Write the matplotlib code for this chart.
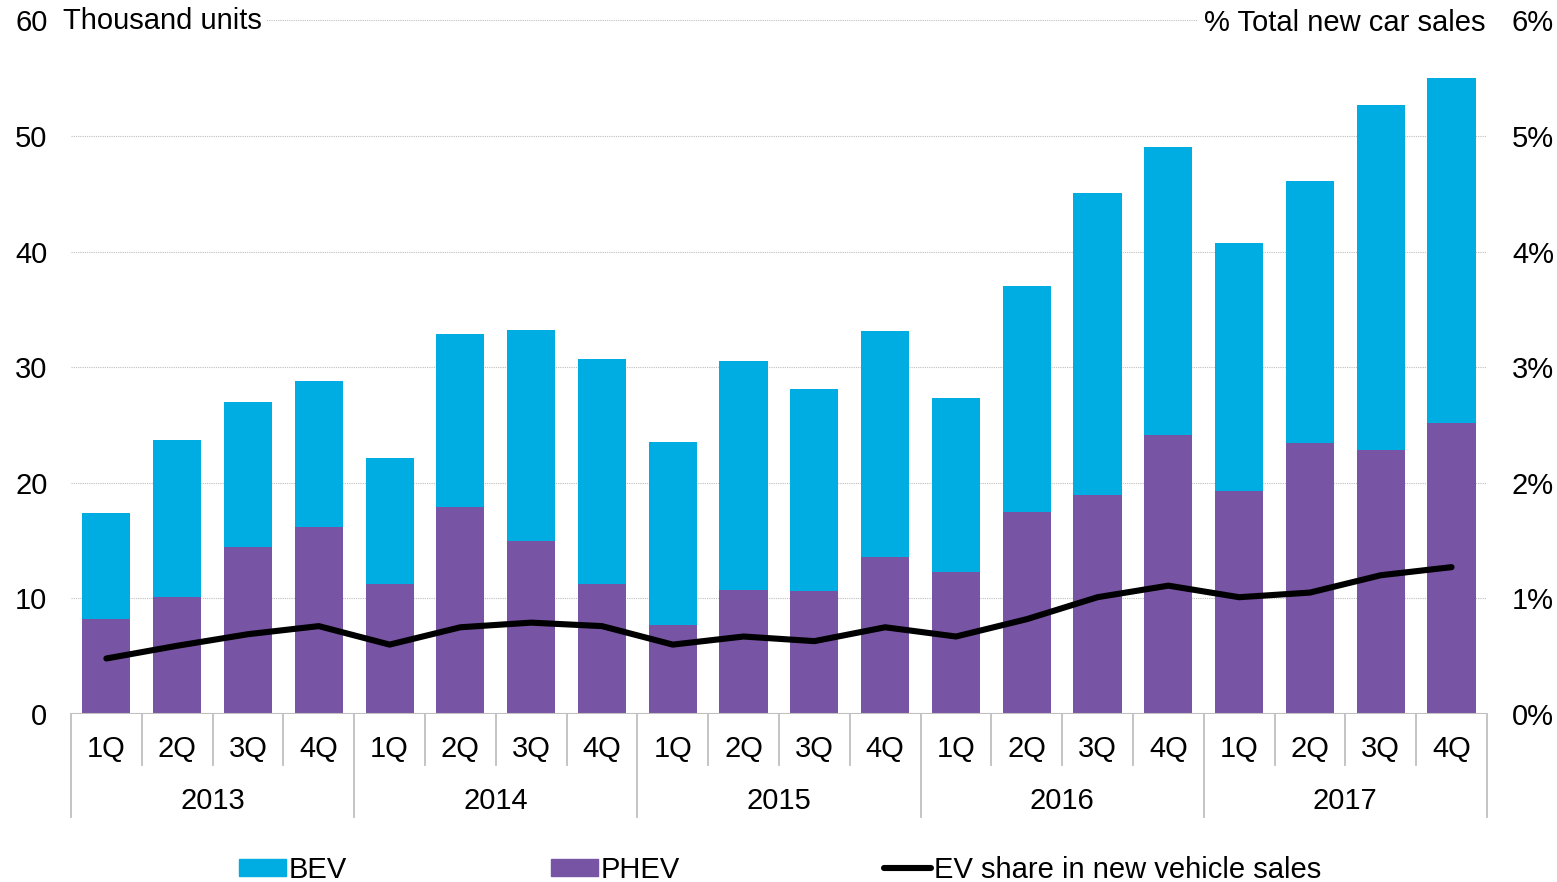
import matplotlib.pyplot as plt
import numpy as np
from matplotlib.lines import Line2D
from matplotlib.patches import Patch

plt.rcParams['font.family'] = ['Liberation Sans', 'DejaVu Sans']

years = ['2013', '2014', '2015', '2016', '2017']
quarters = ['1Q', '2Q', '3Q', '4Q']

# thousand units
phev = [8.2, 10.1, 14.4, 16.2,
        11.2, 17.9, 15.0, 11.2,
        7.7, 10.7, 10.6, 13.6,
        12.3, 17.5, 18.9, 24.1,
        19.3, 23.4, 22.8, 25.2]
total = [17.4, 23.7, 27.0, 28.8,
         22.1, 32.9, 33.2, 30.7,
         23.5, 30.5, 28.1, 33.1,
         27.3, 37.0, 45.1, 49.0,
         40.7, 46.1, 52.7, 55.0]
bev = [t - p for t, p in zip(total, phev)]
# % of total new car sales
ev_share = [0.48, 0.59, 0.69, 0.76,
            0.60, 0.75, 0.79, 0.76,
            0.60, 0.67, 0.63, 0.75,
            0.67, 0.82, 1.01, 1.11,
            1.01, 1.05, 1.20, 1.27]

bev_color = '#00ADE3'
phev_color = '#7754A4'
grid_color = '#BFBFBF'
fs = 21

fig = plt.figure(figsize=(15.57, 8.82), dpi=100)
ax = fig.add_axes([0.0456, 0.1905, 0.9094, 0.7865])
ax2 = ax.twinx()

n = len(phev)
x = np.arange(n)
ax.bar(x, phev, width=0.68, color=phev_color, zorder=2)
ax.bar(x, bev, width=0.68, bottom=phev, color=bev_color, zorder=2)
ax2.plot(x, np.array(ev_share) / 100, color='black', lw=4.4, solid_capstyle='round', zorder=3)

ax.set_xlim(-0.5, n - 0.5)
ax.set_ylim(0, 60)
ax2.set_ylim(0, 0.06)
ax.set_yticks(range(0, 61, 10))
ax.set_yticklabels(['0', '10', '20', '30', '40', '50', '60'])
ax2.set_yticks(np.arange(0, 0.061, 0.01))
ax2.set_yticklabels([f'{i}%' for i in range(7)])
for a in (ax, ax2):
    for s in a.spines.values():
        s.set_visible(False)
    a.tick_params(axis='y', length=0, labelsize=fs)
ax.tick_params(axis='y', pad=17)
ax2.tick_params(axis='y', pad=18)
ax.set_xticks([])

for v in range(10, 70, 10):
    ax.axhline(v, color=grid_color, lw=0.8, ls=(0, (1, 1)), zorder=1)
ax.axhline(0, color=grid_color, lw=1.5, zorder=3)

# two-level category axis
trans = ax.get_xaxis_transform()
for i in range(n):
    ax.text(i, -0.05, quarters[i % 4], transform=trans, ha='center', va='center', fontsize=fs)
for k in range(n + 1):
    bottom = -0.149 if k % 4 == 0 else -0.074
    ax.plot([k - 0.5, k - 0.5], [0, bottom], transform=trans, color=grid_color, lw=1.3, clip_on=False)
for j, yr in enumerate(years):
    ax.text(4 * j + 1.5, -0.125, yr, transform=trans, ha='center', va='center', fontsize=fs)

# axis titles sitting on the top gridline
fig.text(0.0405, 0.976, 'Thousand units', ha='left', va='center', fontsize=fs,
         bbox=dict(facecolor='white', edgecolor='none', pad=4), zorder=5)
fig.text(0.954, 0.974, '% Total new car sales', ha='right', va='center', fontsize=fs,
         bbox=dict(facecolor='white', edgecolor='none', pad=4), zorder=5)

handles = [Patch(color=bev_color, label='BEV'),
           Patch(color=phev_color, label='PHEV'),
           Line2D([0], [0], color='black', lw=4.4, solid_capstyle='round', label='EV share in new vehicle sales')]
fig.legend(handles=handles, loc='center', bbox_to_anchor=(0.501, 0.014), ncol=3, frameon=False,
           fontsize=fs, handlelength=1.6, handleheight=0.55, handletextpad=0.1, columnspacing=7.0)

fig.savefig('out.png', dpi=100)
